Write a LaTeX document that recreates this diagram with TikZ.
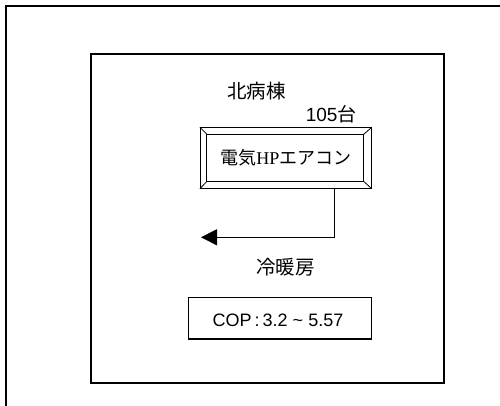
\documentclass[tikz,border=0pt]{standalone}
\usepackage{fontspec}
\setmainfont{Liberation Sans}
\newfontfamily\jp{Noto Sans CJK JP}
\newfontfamily\ser{Liberation Serif}
\usetikzlibrary{arrows.meta}
\begin{document}
\begin{tikzpicture}[x=1pt,y=-1pt,
  lbl/.style={inner sep=0pt,font=\fontsize{18}{20}\selectfont},
  biglbl/.style={inner sep=0pt,font=\fontsize{19.5}{21}\selectfont},
  boxed/.style={draw,line width=1.1pt,inner sep=0pt},
  bevel/.style={draw,line width=0.9pt,inner sep=0pt,minimum width=171pt,minimum height=60.6pt}]
\useasboundingbox (0,0) rectangle (500,406);
% outer frame (only top and left visible)
\coordinate (fbl) at (6,406);
\coordinate (ftl) at (6,6);
\coordinate (ftr) at (500,6);
\draw[line width=1.2pt] (fbl) -- (ftl) -- (ftr);
% building box
\node[boxed,minimum width=353pt,minimum height=329pt] (bldg) at (267.5,218.5) {};
\node[biglbl] (name) at (256.5,91.3) {\jp 北病棟};
\node[biglbl,font=\fontsize{19}{21}\selectfont] (cnt) at (331.2,114.3) {105{\jp 台}};
% bevelled box
\node[bevel,lbl] (ac) at (285.8,158) {{\jp 電気}{\ser HP}{\jp エアコン}};
\draw[line width=0.9pt]
  ([shift={(7pt,-7pt)}]ac.north west) rectangle ([shift={(-8pt,7.3pt)}]ac.south east);
\draw[line width=0.8pt] (ac.north west) -- ([shift={(7pt,-7pt)}]ac.north west);
\draw[line width=0.8pt] (ac.north east) -- ([shift={(-8pt,-7pt)}]ac.north east);
\draw[line width=0.8pt] (ac.south west) -- ([shift={(7pt,7.3pt)}]ac.south west);
\draw[line width=0.8pt] (ac.south east) -- ([shift={(-8pt,7.3pt)}]ac.south east);
% connector
\coordinate (tip) at (201,237.3);
\draw[line width=1pt,-{Triangle[length=16pt,width=16pt]}] ([xshift=48.2pt]ac.south) |- (tip);
\node[biglbl] (use) at (285.3,267.5) {\jp 冷暖房};
% COP box
\node[boxed,lbl,minimum width=183pt,minimum height=41.3pt] (cop) at (279.8,318.3) {};
\node[lbl] (coptxt) at (278,320.5) {COP{\,}:{\,}3.2 \textasciitilde\ 5.57};
\end{tikzpicture}
\end{document}
